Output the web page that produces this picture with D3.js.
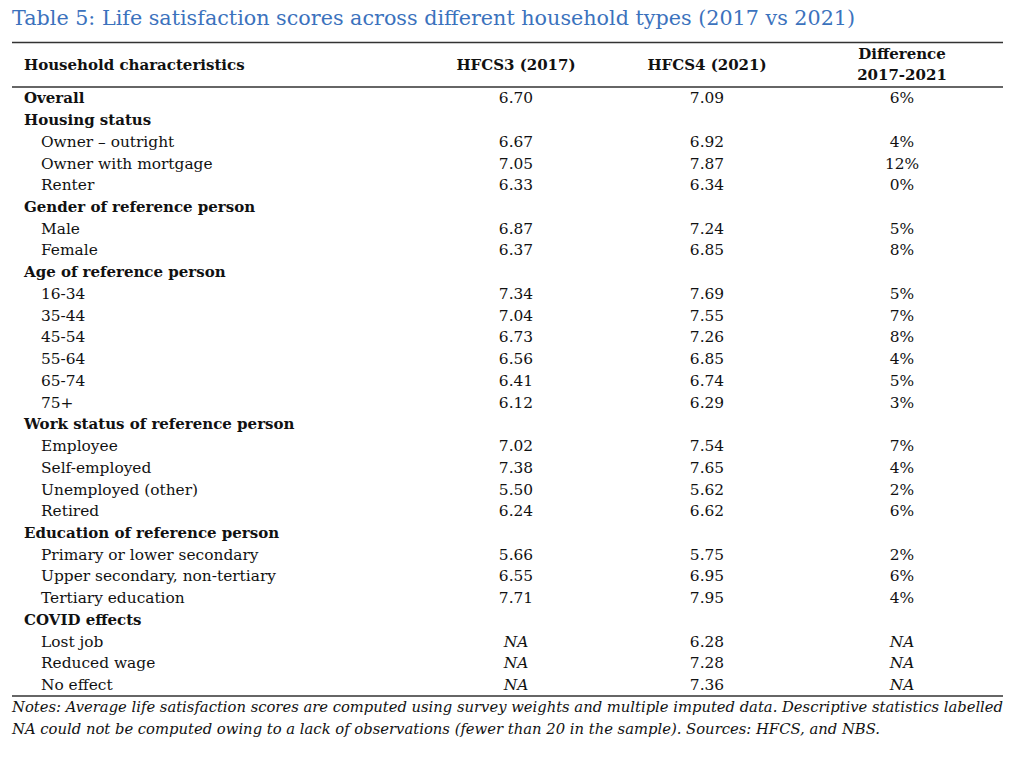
<!DOCTYPE html>
<html>
<head>
<meta charset="utf-8">
<script src="https://cdn.jsdelivr.net/npm/d3@7"></script>
<style>
  body { margin: 0; background: #fff; }
  text { font-family: "DejaVu Serif", serif; fill: #111; }
</style>
</head>
<body>
<script>
// table values
let labels = ["Overall", "Housing status", "Owner \u2013 outright", "Owner with mortgage", "Renter",
  "Gender of reference person", "Male", "Female",
  "Age of reference person", "16-34", "35-44", "45-54", "55-64", "65-74", "75+",
  "Work status of reference person", "Employee", "Self-employed", "Unemployed (other)", "Retired",
  "Education of reference person", "Primary or lower secondary", "Upper secondary, non-tertiary", "Tertiary education",
  "COVID effects", "Lost job", "Reduced wage", "No effect"];
// 1 = bold heading row, 0 = indented item row
let heading = [1,1,0,0,0, 1,0,0, 1,0,0,0,0,0,0, 1,0,0,0,0, 1,0,0,0, 1,0,0,0];
let hfcs3 = ["6.70","","6.67","7.05","6.33", "","6.87","6.37", "","7.34","7.04","6.73","6.56","6.41","6.12",
  "","7.02","7.38","5.50","6.24", "","5.66","6.55","7.71", "","NA","NA","NA"];
let hfcs4 = ["7.09","","6.92","7.87","6.34", "","7.24","6.85", "","7.69","7.55","7.26","6.85","6.74","6.29",
  "","7.54","7.65","5.62","6.62", "","5.75","6.95","7.95", "","6.28","7.28","7.36"];
let diff = ["6%","","4%","12%","0%", "","5%","8%", "","5%","7%","8%","4%","5%","3%",
  "","7%","4%","2%","6%", "","2%","6%","4%", "","NA","NA","NA"];
let columns = ["HFCS3 (2017)", "HFCS4 (2021)", "Difference\n2017-2021"];
let title = "Table 5: Life satisfaction scores across different household types (2017 vs 2021)";
let notes = ["Notes: Average life satisfaction scores are computed using survey weights and multiple imputed data. Descriptive statistics labelled",
  "NA could not be computed owing to a lack of observations (fewer than 20 in the sample). Sources: HFCS, and NBS."];

let w = 1024, h = 758;
let left = 12, right = 1003;
let fs = 15.4, fsBold = 15;

let svg = d3.select("body").append("svg")
  .attr("width", w).attr("height", h);

svg.append("text")
  .attr("x", left).attr("y", 25)
  .style("font-size", "20.7px")
  .style("fill", "#3b72bd")
  .text(title);

let yScale = d3.scaleBand()
  .domain(d3.range(labels.length))
  .range([87.5, 696]);

let xScale = d3.scaleOrdinal()
  .domain(columns)
  .range([516, 707, 902]);

// rules
svg.selectAll("line.rule")
  .data([42.5, 87, 696])
  .enter().append("line")
  .attr("class", "rule")
  .attr("x1", left).attr("x2", right)
  .attr("y1", d => d).attr("y2", d => d)
  .attr("stroke", "#333").attr("stroke-width", 1.4);

// header
svg.append("text")
  .attr("x", 24).attr("y", 70)
  .style("font-size", fsBold + "px").style("font-weight", "bold")
  .text("Household characteristics");

let hdr = svg.selectAll("text.hdr")
  .data(columns)
  .enter().append("text")
  .attr("class", "hdr")
  .attr("text-anchor", "middle")
  .style("font-size", fsBold + "px").style("font-weight", "bold")
  .attr("x", d => xScale(d))
  .attr("y", d => d.includes("\n") ? 59 : 70);
hdr.each(function(d) {
  let parts = d.split("\n");
  d3.select(this).selectAll("tspan")
    .data(parts).enter().append("tspan")
    .attr("x", xScale(d))
    .attr("dy", (p, i) => i ? 21 : 0)
    .text(p => p);
});

// body rows
let rows = svg.selectAll("g.row")
  .data(labels)
  .enter().append("g")
  .attr("class", "row")
  .attr("transform", (d, i) => "translate(0," + (yScale(i) + yScale.bandwidth() / 2 + 5) + ")");

rows.append("text")
  .attr("x", (d, i) => heading[i] ? 24 : 41)
  .style("font-size", (d, i) => (heading[i] ? fsBold : fs) + "px")
  .style("font-weight", (d, i) => heading[i] ? "bold" : "normal")
  .text(d => d);

let cells = [hfcs3, hfcs4, diff];
cells.forEach((col, c) => {
  rows.append("text")
    .attr("x", xScale(columns[c]))
    .attr("text-anchor", "middle")
    .style("font-size", fs + "px")
    .style("font-style", (d, i) => col[i] === "NA" ? "italic" : "normal")
    .text((d, i) => col[i]);
});

// notes
svg.selectAll("text.note")
  .data(notes)
  .enter().append("text")
  .attr("class", "note")
  .attr("x", left)
  .attr("y", (d, i) => 712 + i * 22)
  .style("font-size", "14.5px").style("font-style", "italic")
  .attr("textLength", (d, i) => i === 0 ? right - left : 868)
  .attr("lengthAdjust", "spacingAndGlyphs")
  .text(d => d);
</script>
</body>
</html>
